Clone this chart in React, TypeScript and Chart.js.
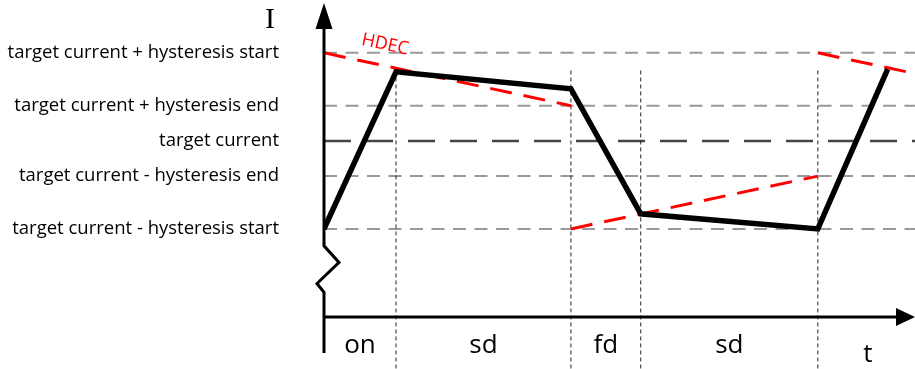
import React, { useEffect, useRef } from "react";
import { Chart, registerables } from "chart.js";

Chart.register(...registerables);

// Current levels (arbitrary units, target current = 0)
const levelValues = [2.5, 1, 0, -1, -2.5];
const levelLabels = [
  "target current + hysteresis start",
  "target current + hysteresis end",
  "target current",
  "target current - hysteresis end",
  "target current - hysteresis start",
];

// Coil current waveform
const currentT = [0, 1.0, 3.43, 4.4, 6.86, 7.83];
const currentI = [-2.5, 1.96, 1.48, -2.07, -2.5, 2.04];

// HDEC (hysteresis decrement) segments
const hdec1T = [0, 3.43];
const hdec1I = [2.5, 1.0];
const hdec2T = [3.43, 6.86];
const hdec2I = [-2.5, -1.0];
const hdec3T = [6.86, 8.21];
const hdec3I = [2.5, 1.91];

// Phases
const phaseBounds = [0, 1.0, 3.43, 4.4, 6.86];
const phaseNames = ["on", "sd", "fd", "sd"];
const boundaryTop = 2.0;
const boundaryBottom = -6.6;

const X_MAX = 8.21;
const Y_MIN = -5;
const Y_MAX = 4;

const FONT = "'Open Sans', 'Noto Sans', sans-serif";

const decor = {
  id: "decor",
  afterDatasetsDraw(chart: any) {
    const { ctx, chartArea, scales } = chart;
    const x = scales.x;
    const y = scales.y;
    const x0 = x.getPixelForValue(0);
    const yb = y.getPixelForValue(Y_MIN);
    const right = chartArea.right;
    const top = chartArea.top;
    ctx.save();
    ctx.strokeStyle = "#000";
    ctx.fillStyle = "#000";
    ctx.lineWidth = 3;
    ctx.lineJoin = "miter";
    // y axis with break
    ctx.beginPath();
    ctx.moveTo(x0, top + 26);
    ctx.lineTo(x0, y.getPixelForValue(-2.98));
    ctx.lineTo(x0 + 15, y.getPixelForValue(-3.45));
    ctx.lineTo(x0 - 7, y.getPixelForValue(-4.05));
    ctx.lineTo(x0, y.getPixelForValue(-4.3));
    ctx.lineTo(x0, yb + 36);
    ctx.stroke();
    // y arrow
    ctx.beginPath();
    ctx.moveTo(x0, top + 3);
    ctx.lineTo(x0 - 8.5, top + 29);
    ctx.lineTo(x0 + 8.5, top + 29);
    ctx.closePath();
    ctx.fill();
    // x axis
    ctx.beginPath();
    ctx.moveTo(x0, yb);
    ctx.lineTo(right - 16, yb);
    ctx.stroke();
    ctx.beginPath();
    ctx.moveTo(right, yb);
    ctx.lineTo(right - 19, yb - 9);
    ctx.lineTo(right - 19, yb + 9);
    ctx.closePath();
    ctx.fill();

    // axis titles
    ctx.fillStyle = "#000";
    ctx.textAlign = "center";
    ctx.textBaseline = "alphabetic";
    ctx.font = "30px 'Liberation Serif', serif";
    ctx.fillText("I", x0 - 54, top + 28);
    ctx.font = `26px ${FONT}`;
    ctx.fillText("t", right - 47, yb + 45);

    // phase names
    for (let i = 0; i < phaseNames.length; i++) {
      const a = x.getPixelForValue(phaseBounds[i]);
      const b = x.getPixelForValue(phaseBounds[i + 1]);
      ctx.fillText(phaseNames[i], (a + b) / 2, yb + 36);
    }

    // HDEC label
    const p1x = x.getPixelForValue(hdec1T[0]);
    const p1y = y.getPixelForValue(hdec1I[0]);
    const p2x = x.getPixelForValue(hdec1T[1]);
    const p2y = y.getPixelForValue(hdec1I[1]);
    const ang = Math.atan2(p2y - p1y, p2x - p1x);
    ctx.save();
    ctx.translate(x.getPixelForValue(0.85), y.getPixelForValue(2.73));
    ctx.rotate(ang);
    ctx.fillStyle = "#ff0000";
    ctx.font = `18px ${FONT}`;
    ctx.textBaseline = "middle";
    ctx.fillText("HDEC", 0, 0);
    ctx.restore();
    ctx.restore();
  },
};

export default function App() {
  const ref = useRef<HTMLCanvasElement | null>(null);
  useEffect(() => {
    if (!ref.current) return;
    const pts = (ts: number[], is: number[]) => ts.map((t, i) => ({ x: t, y: is[i] }));
    const datasets: any[] = [];
    datasets.push({
      data: pts(currentT, currentI),
      borderColor: "#000",
      borderWidth: 5.5,
      borderJoinStyle: "miter",
      pointRadius: 0,
      order: 0,
    });
    [
      [hdec1T, hdec1I],
      [hdec2T, hdec2I],
      [hdec3T, hdec3I],
    ].forEach(([t, i]) => {
      datasets.push({
        data: pts(t, i),
        borderColor: "#ff0000",
        borderWidth: 3,
        borderDash: [22, 12],
        pointRadius: 0,
        order: 1,
      });
    });
    phaseBounds.slice(1).forEach((b) => {
      datasets.push({
        data: [
          { x: b, y: boundaryTop },
          { x: b, y: boundaryBottom },
        ],
        borderColor: "#222",
        borderWidth: 1,
        borderDash: [4, 3],
        pointRadius: 0,
        clip: false,
        order: 2,
      });
    });
    levelValues.forEach((v) => {
      const isTarget = v === 0;
      datasets.push({
        data: [
          { x: 0, y: v },
          { x: X_MAX, y: v },
        ],
        borderColor: isTarget ? "#444" : "#999",
        borderWidth: isTarget ? 2.5 : 2,
        borderDash: isTarget ? [27, 15] : [13, 8.5],
        pointRadius: 0,
        order: 3,
      });
    });

    const chart = new Chart(ref.current, {
      type: "line",
      data: { datasets },
      options: {
        animation: false,
        responsive: false,
        maintainAspectRatio: false,
        devicePixelRatio: 1,
        layout: { padding: { left: 0, right: 0, top: 0, bottom: 52 } },
        plugins: { legend: { display: false }, tooltip: { enabled: false } },
        elements: { line: { tension: 0 } },
        scales: {
          x: { type: "linear", min: 0, max: X_MAX, display: false },
          y: {
            type: "linear",
            min: Y_MIN,
            max: Y_MAX,
            grid: { display: false, drawTicks: false },
            border: { display: false },
            afterBuildTicks: (scale: any) => {
              scale.ticks = levelValues.map((v) => ({ value: v }));
            },
            afterFit: (scale: any) => {
              scale.width = 324;
              scale.paddingTop = 0;
              scale.paddingBottom = 0;
            },
            ticks: {
              autoSkip: false,
              padding: 45,
              color: "#000",
              font: { family: FONT, size: 18.5 },
              callback: (v: any) => {
                const idx = levelValues.indexOf(Number(v));
                return idx >= 0 ? levelLabels[idx] : "";
              },
            },
          },
        },
      },
      plugins: [decor],
    } as any);
    return () => chart.destroy();
  }, []);
  return (
    <div style={{ position: "fixed", left: 0, top: 0, width: 915, height: 369, background: "#fff" }}>
      <canvas ref={ref} width={915} height={369} style={{ display: "block" }} />
    </div>
  );
}
